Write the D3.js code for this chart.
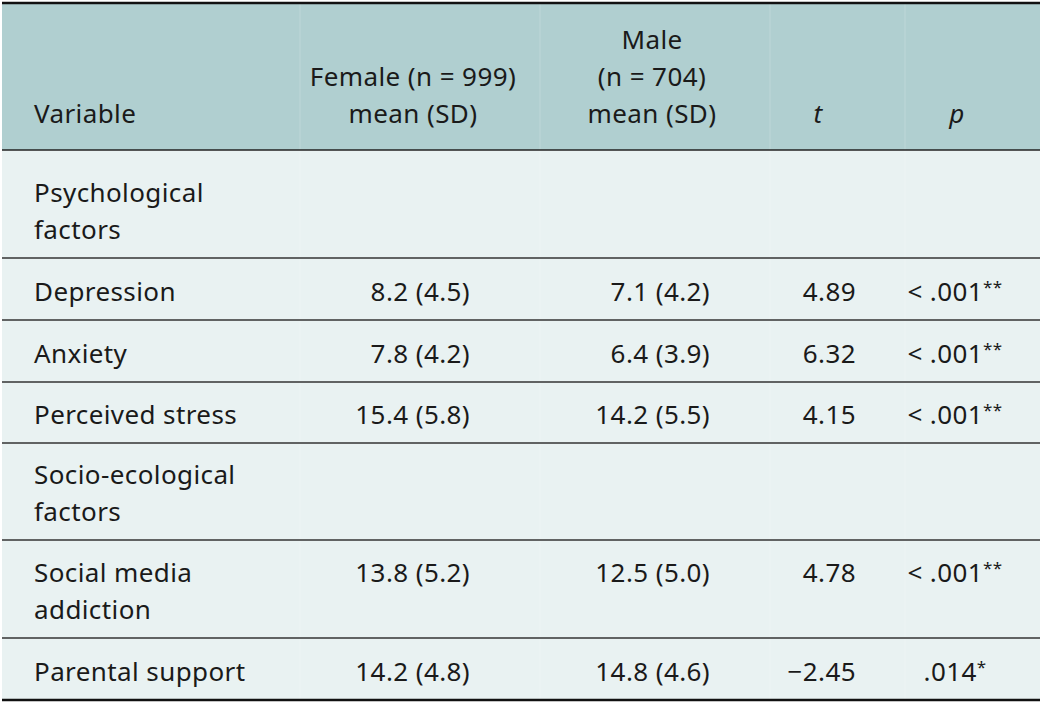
<!DOCTYPE html>
<html>
<meta charset="utf-8">
<style>
body { margin: 0; background: #fff; }
text { font-family: "Noto Sans", sans-serif; font-size: 26px; letter-spacing: 0.4px; fill: #1a1a1a; }
</style>
<svg width="1042" height="704"></svg>
<script src="https://d3js.org/d3.v7.min.js"></script>
<script>
var variables = [["Psychological", "factors"], ["Depression"], ["Anxiety"], ["Perceived stress"],
                 ["Socio-ecological", "factors"], ["Social media", "addiction"], ["Parental support"]];
var female = ["", "8.2 (4.5)", "7.8 (4.2)", "15.4 (5.8)", "", "13.8 (5.2)", "14.2 (4.8)"];
var male = ["", "7.1 (4.2)", "6.4 (3.9)", "14.2 (5.5)", "", "12.5 (5.0)", "14.8 (4.6)"];
var tvals = ["", "4.89", "6.32", "4.15", "", "4.78", "\u22122.45"];
var pvals = ["", "< .001", "< .001", "< .001", "", "< .001", ".014"];
var pstars = ["", "**", "**", "**", "", "**", "*"];
var rowBounds = [150, 258, 320, 382, 443, 540, 638, 700];

var svg = d3.select("svg");
var left = 2, right = 1040;

svg.append("rect").attr("x", left).attr("y", 4).attr("width", right - left).attr("height", 146).attr("fill", "#b0cfd0");
svg.append("rect").attr("x", left).attr("y", 150).attr("width", right - left).attr("height", 550).attr("fill", "#e9f2f2");

// faint column separators
[300, 540, 770, 905].forEach(function(x) {
  svg.append("line").attr("x1", x).attr("x2", x).attr("y1", 4).attr("y2", 700)
    .attr("stroke", "#ffffff").attr("stroke-opacity", 0.2).attr("stroke-width", 1);
});

// header
var hdr = svg.append("g");
function htext(x, ys, lines, anchor, italic) {
  lines.forEach(function(l, i) {
    hdr.append("text").attr("x", x).attr("y", ys[i]).attr("text-anchor", anchor)
      .style("font-style", italic ? "italic" : null).text(l);
  });
}
htext(34, [123], ["Variable"], "start");
htext(413, [86, 123], ["Female (n = 999)", "mean (SD)"], "middle");
htext(652, [49, 86, 123], ["Male", "(n = 704)", "mean (SD)"], "middle");
htext(818, [123], ["t"], "middle", true);
htext(957, [123], ["p"], "middle", true);

// body rows
variables.forEach(function(v, i) {
  var bottom = rowBounds[i + 1];
  var base = bottom - 19;
  var g = svg.append("g");
  v.forEach(function(l, j) {
    g.append("text").attr("x", 34).attr("y", v.length === 2 ? base - 37 * (1 - j) : base).text(l);
  });
  var cy = (v.length === 2 && female[i]) ? base - 37 : base;
  g.append("text").attr("x", 470).attr("y", cy).attr("text-anchor", "end").text(female[i]);
  g.append("text").attr("x", 710).attr("y", cy).attr("text-anchor", "end").text(male[i]);
  g.append("text").attr("x", 856).attr("y", cy).attr("text-anchor", "end").text(tvals[i]);
  var pt = g.append("text").attr("x", 955).attr("y", cy).attr("text-anchor", "middle");
  pt.append("tspan").text(pvals[i]);
  pt.append("tspan").attr("dy", -8).style("font-size", "17px").text(pstars[i]);
});

// rules
rowBounds.slice(1, -1).forEach(function(y) {
  svg.append("line").attr("x1", left).attr("x2", right).attr("y1", y).attr("y2", y)
    .attr("stroke", "#333").attr("stroke-width", 1.3);
});
svg.append("line").attr("x1", left).attr("x2", right).attr("y1", 150).attr("y2", 150).attr("stroke", "#222").attr("stroke-width", 1.5);
svg.append("line").attr("x1", left).attr("x2", right).attr("y1", 3).attr("y2", 3).attr("stroke", "#111").attr("stroke-width", 2.5);
svg.append("line").attr("x1", left).attr("x2", right).attr("y1", 700).attr("y2", 700).attr("stroke", "#111").attr("stroke-width", 2.5);
</script>
</html>
